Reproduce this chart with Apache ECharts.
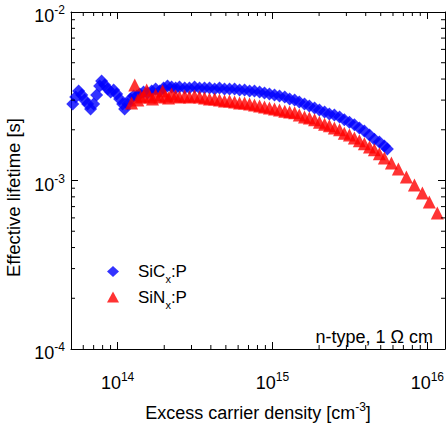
<!DOCTYPE html>
<html>
<head>
<meta charset="utf-8">
<script src="https://cdn.jsdelivr.net/npm/echarts@6/dist/echarts.min.js"></script>
<style>html,body{margin:0;padding:0;background:#fff}#c{width:447px;height:428px}</style>
</head>
<body>
<div id="c"></div>
<script>
const FONT = '"Liberation Sans", Arial, sans-serif';
const X_MIN = 5e13, X_MAX = 1.3e16, Y_MIN = 1e-4, Y_MAX = 1e-2;
const X_MINOR = [6e13,7e13,8e13,9e13,2e14,3e14,4e14,5e14,6e14,7e14,8e14,9e14,2e15,3e15,4e15,5e15,6e15,7e15,8e15,9e15];
const Y_MINOR = [2e-4,3e-4,4e-4,5e-4,6e-4,7e-4,8e-4,9e-4,2e-3,3e-3,4e-3,5e-3,6e-3,7e-3,8e-3,9e-3];

const sicX = [5.13e13,5.36e13,5.60e13,5.86e13,6.12e13,6.40e13,6.69e13,7.00e13,7.32e13,7.65e13,7.88e13,8.24e13,8.62e13,9.01e13,9.42e13,9.85e13,
  1.03e14,1.077e14,1.11e14,1.16e14,1.21e14,1.27e14,1.33e14,1.39e14,1.47e14,1.56e14,1.66e14,1.76e14,1.87e14,1.98e14,2.10e14,2.23e14,2.37e14,2.51e14,2.71e14,2.91e14,3.14e14,3.38e14,3.64e14,3.92e14,4.23e14,4.55e14,4.90e14,5.28e14,5.69e14,6.13e14,6.60e14,7.11e14,7.65e14,8.25e14,8.88e14,9.56e14,
  1.03e15,1.11e15,1.20e15,1.29e15,1.39e15,1.49e15,1.61e15,1.73e15,1.87e15,2.01e15,2.17e15,2.33e15,2.51e15,2.71e15,2.91e15,3.14e15,3.38e15,3.64e15,3.92e15,4.23e15,4.55e15,4.90e15,5.28e15,5.52e15];
const sicY = [2.84e-3,3.13e-3,3.40e-3,3.22e-3,3.00e-3,2.84e-3,2.66e-3,2.84e-3,3.22e-3,3.64e-3,3.89e-3,3.69e-3,3.49e-3,3.35e-3,3.44e-3,3.26e-3,
  3.05e-3,2.84e-3,2.66e-3,2.84e-3,3.05e-3,3.17e-3,3.17e-3,3.26e-3,3.35e-3,3.31e-3,3.40e-3,3.49e-3,3.40e-3,3.54e-3,3.64e-3,3.59e-3,3.54e-3,3.59e-3,3.54e-3,3.54e-3,3.59e-3,3.54e-3,3.54e-3,3.54e-3,3.49e-3,3.54e-3,3.49e-3,3.49e-3,3.49e-3,3.44e-3,3.44e-3,3.40e-3,3.40e-3,3.35e-3,3.31e-3,3.26e-3,
  3.22e-3,3.17e-3,3.13e-3,3.05e-3,3.00e-3,2.92e-3,2.84e-3,2.77e-3,2.69e-3,2.62e-3,2.55e-3,2.48e-3,2.45e-3,2.38e-3,2.29e-3,2.22e-3,2.14e-3,2.05e-3,1.97e-3,1.86e-3,1.76e-3,1.69e-3,1.60e-3,1.54e-3];

const sinX = [1.23e14,1.29e14,1.35e14,1.41e14,1.47e14,1.54e14,1.61e14,1.68e14,1.76e14,1.87e14,1.95e14,2.04e14,2.13e14,2.23e14,2.37e14,2.51e14,2.71e14,2.91e14,3.14e14,3.38e14,3.64e14,3.92e14,4.23e14,4.55e14,4.90e14,5.28e14,5.69e14,6.13e14,6.60e14,7.11e14,7.65e14,8.25e14,8.88e14,9.56e14,
  1.03e15,1.11e15,1.20e15,1.29e15,1.39e15,1.49e15,1.61e15,1.73e15,1.87e15,2.01e15,2.17e15,2.33e15,2.51e15,2.71e15,2.91e15,3.14e15,3.38e15,3.64e15,3.92e15,4.23e15,4.55e15,4.90e15,5.28e15,5.86e15,6.50e15,7.32e15,8.25e15,9.29e15,1.03e16,1.16e16];
const sinY = [2.88e-3,3.69e-3,3.00e-3,3.13e-3,3.17e-3,3.44e-3,3.13e-3,3.05e-3,3.22e-3,3.13e-3,3.40e-3,3.17e-3,3.09e-3,3.26e-3,3.17e-3,3.13e-3,3.17e-3,3.13e-3,3.17e-3,3.13e-3,3.09e-3,3.05e-3,3.05e-3,3.00e-3,2.96e-3,2.96e-3,2.92e-3,2.88e-3,2.88e-3,2.84e-3,2.81e-3,2.77e-3,2.73e-3,2.69e-3,
  2.66e-3,2.62e-3,2.58e-3,2.55e-3,2.52e-3,2.45e-3,2.38e-3,2.35e-3,2.29e-3,2.22e-3,2.16e-3,2.11e-3,2.05e-3,2.00e-3,1.91e-3,1.86e-3,1.79e-3,1.72e-3,1.65e-3,1.58e-3,1.52e-3,1.44e-3,1.36e-3,1.27e-3,1.17e-3,1.05e-3,9.40e-4,8.42e-4,7.45e-4,6.41e-4];

const zip = (xs, ys) => xs.map((x, i) => [x, ys[i]]);

function powLabel(v) {
  const l = Math.log10(v), e = Math.round(l);
  if (Math.abs(l - e) > 1e-6) return '';
  return '{b|10}{s|' + e + '}';
}
const supRich = {
  b: { fontSize: 18, lineHeight: 24, verticalAlign: 'middle', fontFamily: FONT, color: '#000' },
  s: { fontSize: 12, lineHeight: 24, verticalAlign: 'top', fontFamily: FONT, color: '#000' }
};
const lineStyle = { color: '#000', width: 1 };

function axisX(pos, main) {
  return {
    type: 'log', logBase: 10, min: X_MIN, max: X_MAX, position: pos, gridIndex: 0,
    axisLine: { show: true, lineStyle },
    axisTick: { show: true, inside: true, length: 7, lineStyle },
    splitLine: { show: false }, minorTick: { show: false },
    axisLabel: main ? { show: true, margin: 22, formatter: powLabel, rich: supRich, showMinLabel: false, showMaxLabel: false } : { show: false },
    name: main ? '{n|Excess carrier density [cm}{s|-3}{n|]}' : '',
    nameLocation: 'middle', nameGap: 52,
    nameTextStyle: { rich: {
      n: { fontSize: 18, lineHeight: 24, verticalAlign: 'middle', fontFamily: FONT, color: '#000' },
      s: { fontSize: 12, lineHeight: 24, verticalAlign: 'top', fontFamily: FONT, color: '#000' } } }
  };
}
function axisY(pos, main) {
  return {
    type: 'log', logBase: 10, min: Y_MIN, max: Y_MAX, position: pos, gridIndex: 0,
    axisLine: { show: true, lineStyle },
    axisTick: { show: true, inside: true, length: 7, lineStyle },
    splitLine: { show: false }, minorTick: { show: false },
    axisLabel: main ? { show: true, margin: 6, padding: [8, 0, 0, 0], formatter: powLabel, rich: supRich } : { show: false },
    name: main ? 'Effective lifetime [s]' : '',
    nameLocation: 'middle', nameGap: 42,
    nameTextStyle: { fontSize: 18.5, fontFamily: FONT, color: '#000', padding: [0, 34, 0, 0] }
  };
}

function minorTicks(kind) {
  return function (params, api) {
    const L = 4;
    if (kind === 'x') {
      const b = api.coord([api.value(0), Y_MIN]);
      const t = api.coord([api.value(0), Y_MAX]);
      return { type: 'group', children: [
        { type: 'line', shape: { x1: b[0], y1: b[1], x2: b[0], y2: b[1] - L }, style: { stroke: '#000', lineWidth: 1 } },
        { type: 'line', shape: { x1: t[0], y1: t[1], x2: t[0], y2: t[1] + L }, style: { stroke: '#000', lineWidth: 1 } }
      ] };
    }
    const l = api.coord([X_MIN, api.value(1)]);
    const r = api.coord([X_MAX, api.value(1)]);
    return { type: 'group', children: [
      { type: 'line', shape: { x1: l[0], y1: l[1], x2: l[0] + L, y2: l[1] }, style: { stroke: '#000', lineWidth: 1 } },
      { type: 'line', shape: { x1: r[0], y1: r[1], x2: r[0] - L, y2: r[1] }, style: { stroke: '#000', lineWidth: 1 } }
    ] };
  };
}

const chart = echarts.init(document.getElementById('c'), null, { renderer: 'svg' });
chart.setOption({
  animation: false,
  backgroundColor: '#fff',
  grid: { left: 71, right: 2, top: 12, bottom: 79, containLabel: false, outerBoundsMode: 'none' },
  xAxis: [axisX('bottom', true), axisX('top', false)],
  yAxis: [axisY('left', true), axisY('right', false)],
  legend: {
    orient: 'vertical', left: 107, top: 263, padding: 0, itemGap: 4,
    itemWidth: 12, itemHeight: 11,
    data: ['SiCx:P', 'SiNx:P'],
    formatter: n => n === 'SiCx:P' ? '{g|}{a|SiC}{s|x}{a|:P}' : '{g|}{a|SiN}{s|x}{a|:P}',
    textStyle: { rich: {
      g: { width: 14, lineHeight: 26 },
      a: { fontSize: 17, lineHeight: 26, verticalAlign: 'middle', fontFamily: FONT, color: '#000' },
      s: { fontSize: 11, lineHeight: 26, verticalAlign: 'bottom', fontFamily: FONT, color: '#000' } } }
  },
  graphic: [{
    type: 'text', right: 14, top: 328,
    style: { text: 'n-type, 1 \u03A9 cm', font: '18px ' + FONT, fill: '#000' }
  }],
  series: [
    { name: 'SiCx:P', type: 'scatter', xAxisIndex: 0, yAxisIndex: 0, symbol: 'diamond', symbolSize: 13,
      itemStyle: { color: '#0000ff' }, data: zip(sicX, sicY), z: 2 },
    { name: 'SiNx:P', type: 'scatter', xAxisIndex: 0, yAxisIndex: 0, symbol: 'triangle', symbolSize: 13,
      itemStyle: { color: '#ff0000' }, data: zip(sinX, sinY), z: 3 },
    { type: 'custom', xAxisIndex: 0, yAxisIndex: 0, renderItem: minorTicks('x'), data: X_MINOR.map(v => [v, Y_MIN]), z: 5, silent: true },
    { type: 'custom', xAxisIndex: 0, yAxisIndex: 0, renderItem: minorTicks('y'), data: Y_MINOR.map(v => [X_MIN, v]), z: 5, silent: true }
  ]
});
</script>
</body>
</html>
